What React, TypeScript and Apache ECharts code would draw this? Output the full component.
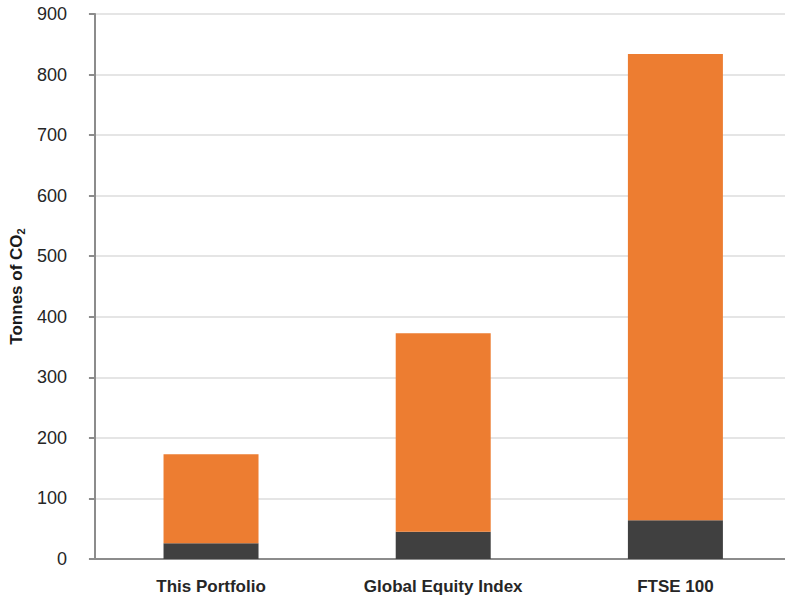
import React, { useEffect, useRef } from "react";
import * as echarts from "echarts";

const categories = ["This Portfolio", "Global Equity Index", "FTSE 100"];
const darkValues = [26, 45, 64];
const orangeValues = [147, 328, 770];
const yTicks = { min: 0, max: 900, interval: 100 };

export default function App() {
  const ref = useRef<HTMLDivElement>(null);
  useEffect(() => {
    if (!ref.current) return;
    const chart = echarts.init(ref.current, null, { renderer: "svg" });
    chart.setOption({
      animation: false,
      textStyle: { fontFamily: "Liberation Sans, Arial, sans-serif" },
      grid: { left: 94.5, right: 8.5, top: 14, bottom: 41, containLabel: false },
      xAxis: {
        type: "category",
        data: categories,
        axisLine: { lineStyle: { color: "#8c8c8c", width: 2 } },
        axisTick: { show: false },
        axisLabel: { color: "#262626", fontSize: 17, fontWeight: "bold", margin: 19 },
      },
      yAxis: {
        type: "value",
        min: yTicks.min,
        max: yTicks.max,
        interval: yTicks.interval,
        name: "{a|Tonnes of CO}{b|2}",
        nameLocation: "middle",
        nameGap: 66,
        nameRotate: 90,
        nameTextStyle: {
          rich: {
            a: { fontSize: 17, fontWeight: "bold", color: "#1a1a1a" },
            b: { fontSize: 11, fontWeight: "bold", color: "#1a1a1a", verticalAlign: "bottom", padding: [8, 0, 0, 0] },
          },
        },
        axisLine: { show: true, lineStyle: { color: "#8c8c8c", width: 2 } },
        axisTick: { show: true, length: 6, lineStyle: { color: "#8c8c8c", width: 2 } },
        axisLabel: { color: "#262626", fontSize: 18, margin: 28 },
        splitLine: { lineStyle: { color: "#dcdcdc", width: 1.5 } },
      },
      series: [
        {
          type: "bar",
          stack: "total",
          data: darkValues,
          barWidth: 95,
          itemStyle: { color: "#404040" },
        },
        {
          type: "bar",
          stack: "total",
          data: orangeValues,
          barWidth: 95,
          itemStyle: { color: "#ED7D31" },
        },
      ],
    });
    return () => chart.dispose();
  }, []);
  return (
    <div
      style={{ position: "absolute", left: 0, top: 0, width: 785, height: 600, overflow: "hidden" }}
    >
      <div ref={ref} style={{ width: 800, height: 600 }} />
    </div>
  );
}
